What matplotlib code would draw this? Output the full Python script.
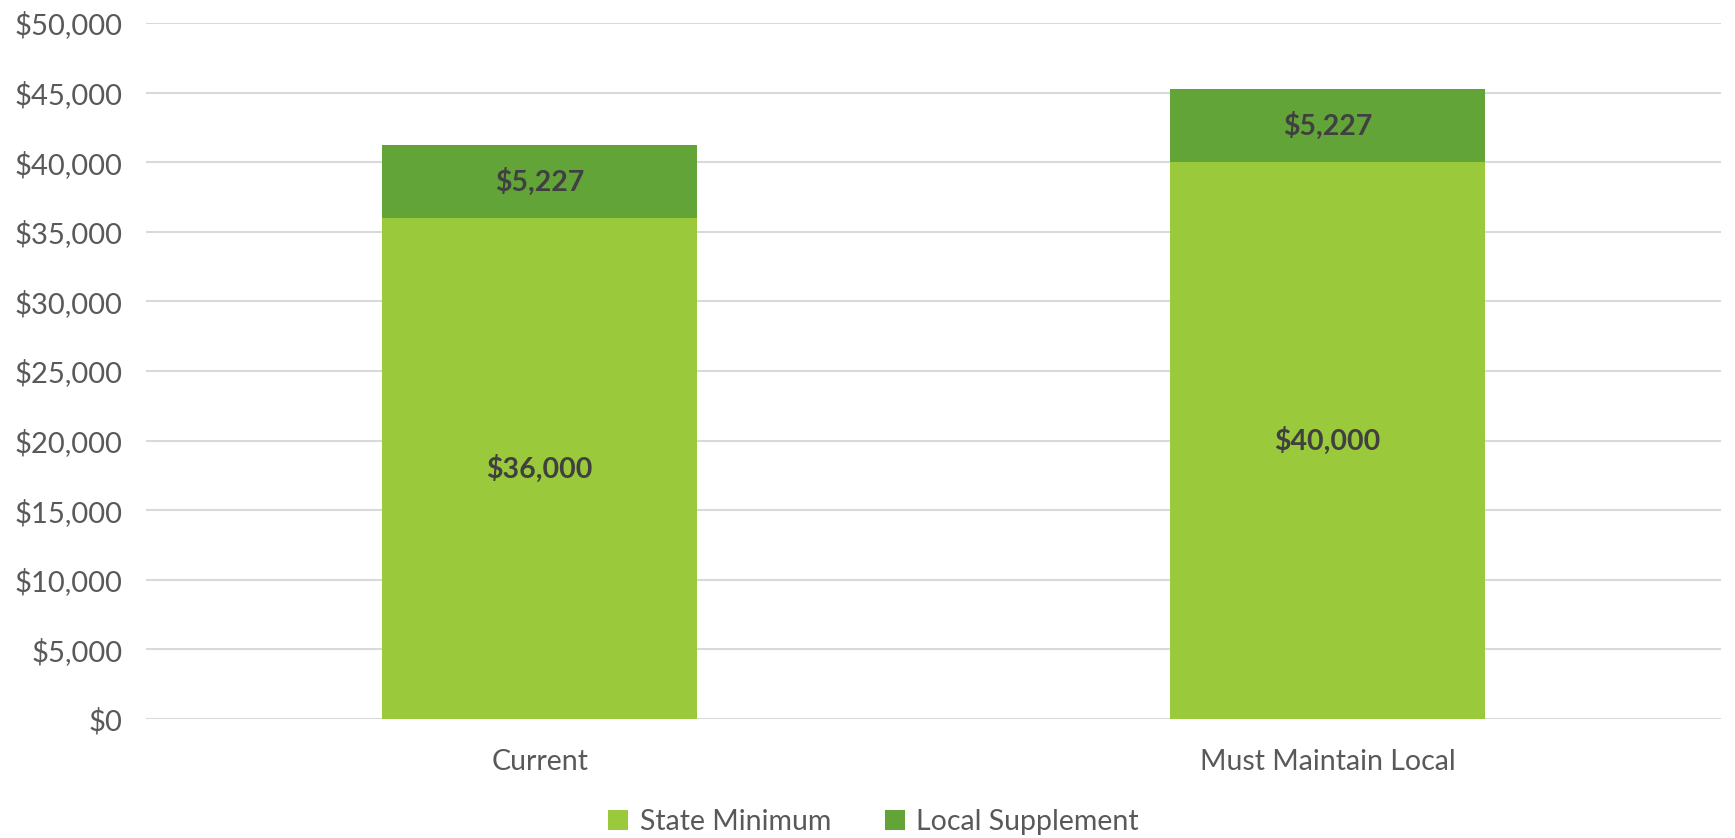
import numpy as np
import matplotlib
matplotlib.use("Agg")
import matplotlib.pyplot as plt
from matplotlib.ticker import FuncFormatter

plt.rcParams['font.family'] = ['Lato', 'DejaVu Sans']

# data
categories = ["Current", "Must Maintain Local"]
state_minimum = [36000, 40000]
local_supplement = [5227, 5227]
series_names = ["State Minimum", "Local Supplement"]

light_green = "#9ACA3C"
dark_green = "#62A438"
label_color = "#404040"
tick_color = "#595959"

fig = plt.figure(figsize=(17.35, 8.38), dpi=100)
ax = fig.add_axes([0.0841, 0.142, 0.908, 0.8305])

x = np.arange(len(categories))
b1 = ax.bar(x, state_minimum, width=0.40, color=light_green, label=series_names[0], zorder=2)
b2 = ax.bar(x, local_supplement, width=0.40, bottom=state_minimum, color=dark_green,
            label=series_names[1], zorder=2)

for bars in (b1, b2):
    labels = [f"${v:,.0f}" for v in bars.datavalues]
    ax.bar_label(bars, labels=labels, label_type="center", fontsize=20.5, fontweight="bold",
                 color=label_color)

ax.set_xlim(-0.5, 1.5)
ax.set_ylim(0, 50000)
ax.set_yticks(np.arange(0, 50001, 5000))
ax.yaxis.set_major_formatter(FuncFormatter(lambda v, p: f"${v:,.0f}"))
ax.set_xticks(x)
ax.set_xticklabels(categories)

ax.grid(axis="y", color="#D9D9D9", linewidth=1.5, zorder=0)
for s in ax.spines.values():
    s.set_visible(False)
ax.tick_params(axis="both", length=0, labelsize=20.5, labelcolor=tick_color)
ax.tick_params(axis="y", labelsize=21, pad=17)
ax.tick_params(axis="x", pad=21.5)

fig.legend(loc="center", bbox_to_anchor=(0.5035, 0.019), ncol=2, frameon=False,
           fontsize=20.5, labelcolor=tick_color, handlelength=0.7, handleheight=0.7,
           handletextpad=0.4, columnspacing=1.9)

fig.savefig("out.png", dpi=100)
